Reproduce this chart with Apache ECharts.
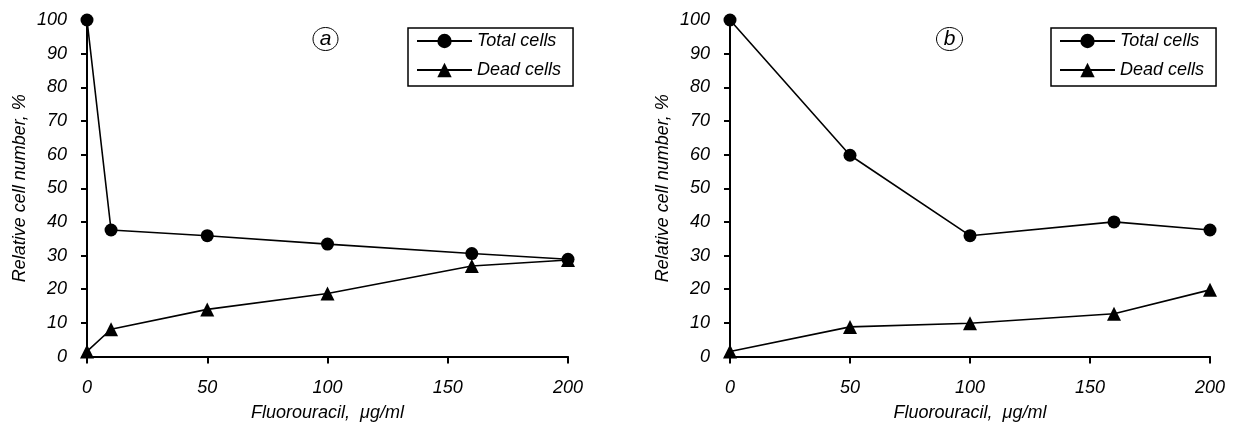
<!DOCTYPE html>
<html>
<head>
<meta charset="utf-8">
<script src="https://cdn.jsdelivr.net/npm/echarts@6/dist/echarts.min.js"></script>
<style>
html,body{margin:0;padding:0;background:#fff;}
#chart{width:1233px;height:432px;}
</style>
</head>
<body>
<div id="chart"></div>
<script>
// Panel a
const dosesA = [0, 10, 50, 100, 160, 200];
const totalA = [100, 37.6, 35.9, 33.4, 30.6, 28.9];
const deadA = [1.5, 8.1, 14.0, 18.7, 26.9, 28.7];
// Panel b
const dosesB = [0, 50, 100, 160, 200];
const totalB = [100, 59.8, 35.9, 40.0, 37.6];
const deadB = [1.5, 8.8, 9.9, 12.7, 19.8];

const yTicks = [0, 10, 20, 30, 40, 50, 60, 70, 80, 90, 100];
const xTicks = [0, 50, 100, 150, 200];
const seriesNames = ['Total cells', 'Dead cells'];
const panelLabels = ['a', 'b'];
const xTitle = 'Fluorouracil,  \u03BCg/ml';
const yTitle = 'Relative cell number, %';

const FONT = '"Liberation Sans Narrow", "Liberation Sans", Arial, sans-serif';

function pairs(xs, ys) { return xs.map((x, i) => [x, ys[i]]); }

const chart = echarts.init(document.getElementById('chart'));

function xAxis(gi) {
  return {
    type: 'value', gridIndex: gi, min: 0, max: 200, interval: 50,
    name: xTitle, nameLocation: 'middle', nameGap: 47,
    nameTextStyle: { fontFamily: FONT, fontStyle: 'italic', fontSize: 18, color: '#000' },
    axisLine: { show: true, onZero: false, lineStyle: { color: '#000', width: 2 } },
    axisTick: { show: true, inside: false, length: 7, lineStyle: { color: '#000', width: 2 } },
    axisLabel: { margin: 22, fontFamily: FONT, fontStyle: 'italic', fontSize: 18, color: '#000' },
    splitLine: { show: false }
  };
}
function yAxis(gi) {
  return {
    type: 'value', gridIndex: gi, min: 0, max: 100, interval: 10,
    name: yTitle, nameLocation: 'middle', nameGap: 58, nameRotate: 90,
    nameTextStyle: { fontFamily: FONT, fontStyle: 'italic', fontSize: 18, color: '#000' },
    axisLine: { show: true, lineStyle: { color: '#000', width: 2 } },
    axisTick: { show: true, inside: false, length: 6, lineStyle: { color: '#000', width: 2 } },
    axisLabel: { margin: 20, fontFamily: FONT, fontStyle: 'italic', fontSize: 18, color: '#000' },
    splitLine: { show: false }
  };
}
function lineSeries(name, gi, data, symbol, size) {
  return {
    name: name, type: 'line', xAxisIndex: gi, yAxisIndex: gi,
    data: data, symbol: symbol, symbolSize: size, showAllSymbol: true,
    lineStyle: { color: '#000', width: 1.6 },
    itemStyle: { color: '#000' },
    z: 3, animation: false
  };
}
function legend(left) {
  return {
    left: left, top: 28, orient: 'vertical',
    data: seriesNames,
    borderColor: '#000', borderWidth: 1.5, borderRadius: 0,
    padding: [4, 12, 7, 8], itemGap: 11, itemWidth: 55, itemHeight: 18,
    textStyle: { fontFamily: FONT, fontStyle: 'italic', fontSize: 18, color: '#000', lineHeight: 18 },
    selectedMode: false
  };
}

const option = {
  animation: false,
  backgroundColor: '#fff',
  grid: [
    { left: 87, top: 20, width: 481, height: 336.5 },
    { left: 730, top: 20, width: 480, height: 336.5 }
  ],
  xAxis: [xAxis(0), xAxis(1)],
  yAxis: [yAxis(0), yAxis(1)],
  legend: [
    legend(408),
    legend(1051)
  ],
  series: [
    lineSeries(seriesNames[0], 0, pairs(dosesA, totalA), 'circle', 13),
    lineSeries(seriesNames[1], 0, pairs(dosesA, deadA), 'triangle', 14),
    lineSeries(seriesNames[0], 1, pairs(dosesB, totalB), 'circle', 13),
    lineSeries(seriesNames[1], 1, pairs(dosesB, deadB), 'triangle', 14)
  ],
  graphic: [
    { type: 'ellipse', shape: { cx: 325.5, cy: 39, rx: 12.5, ry: 11.5 }, style: { fill: 'none', stroke: '#000', lineWidth: 1 } },
    { type: 'text', x: 325.5, y: 39, style: { text: panelLabels[0], font: 'italic 21px ' + FONT, fill: '#000', align: 'center', verticalAlign: 'middle' } },
    { type: 'ellipse', shape: { cx: 949.5, cy: 39, rx: 13, ry: 11.5 }, style: { fill: 'none', stroke: '#000', lineWidth: 1 } },
    { type: 'text', x: 949.5, y: 39, style: { text: panelLabels[1], font: 'italic 21px ' + FONT, fill: '#000', align: 'center', verticalAlign: 'middle' } }
  ]
};
chart.setOption(option);
</script>
</body>
</html>
